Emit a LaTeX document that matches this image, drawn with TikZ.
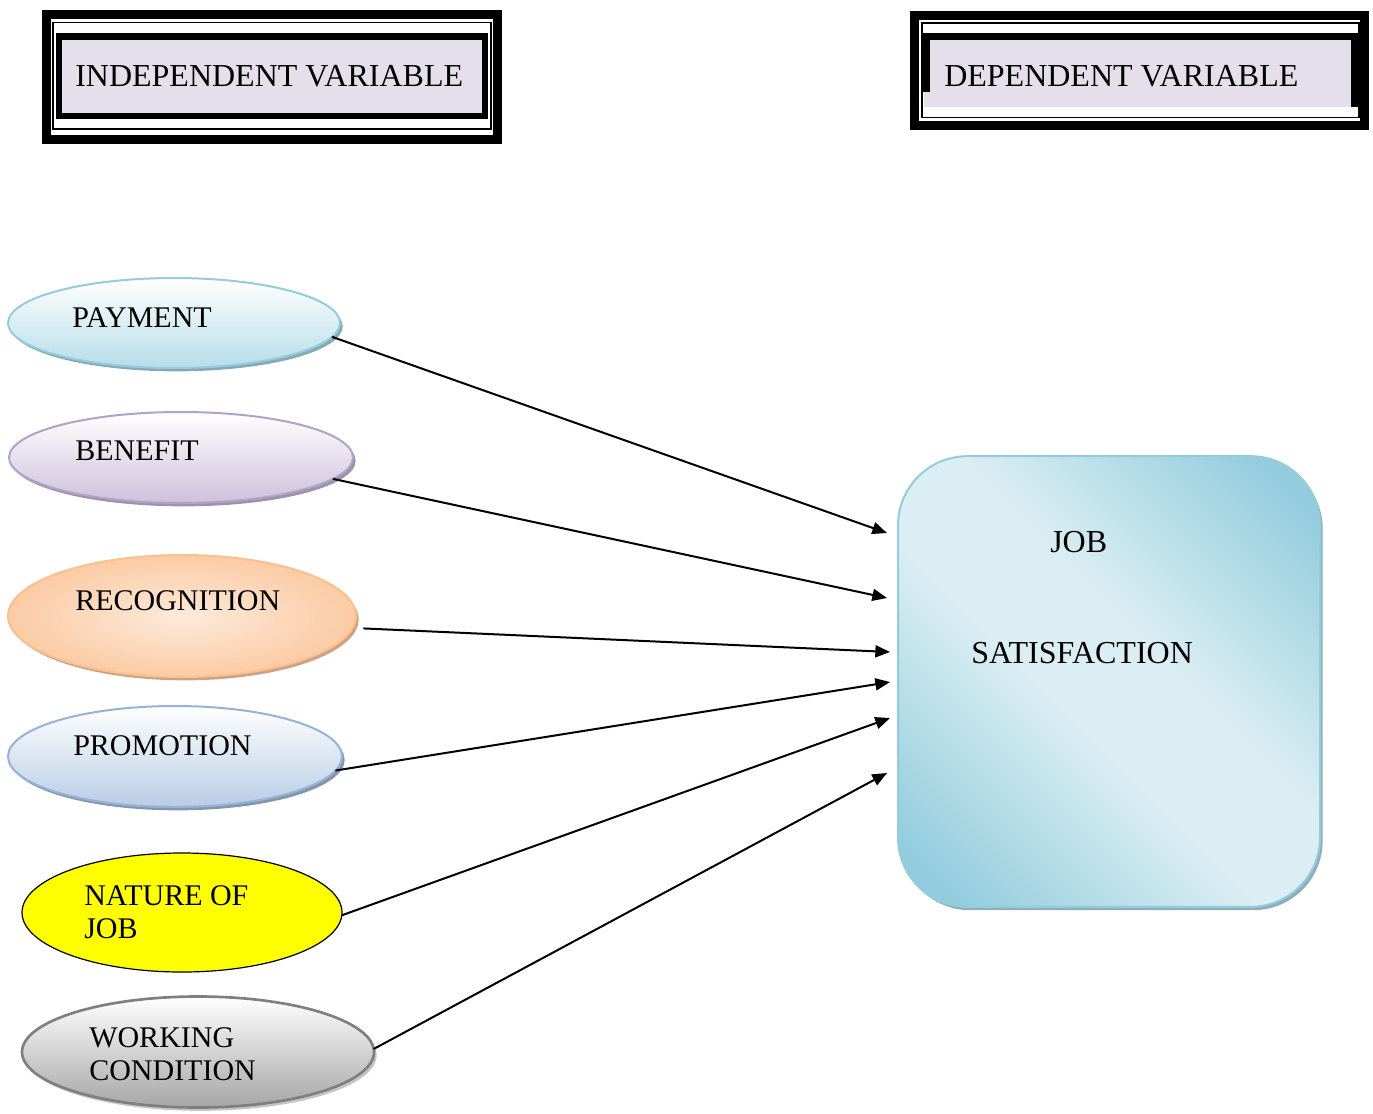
\documentclass[tikz,border=0pt]{standalone}
\usepackage{fontspec}
\setmainfont{Liberation Serif}
\usetikzlibrary{arrows.meta,shadows,shapes.geometric}

\definecolor{hdrfill}{HTML}{E5DFEC}
\definecolor{payline}{HTML}{93CDDD}
\definecolor{paybot}{HTML}{B6DDE8}
\definecolor{payshade}{HTML}{86A9B3}
\definecolor{benline}{HTML}{B2A2C7}
\definecolor{benbot}{HTML}{CCC1DA}
\definecolor{benshade}{HTML}{9D92AB}
\definecolor{recline}{HTML}{FAC090}
\definecolor{recout}{HTML}{FBCBA4}
\definecolor{recin}{HTML}{FDEADB}
\definecolor{recshade}{HTML}{CFA283}
\definecolor{proline}{HTML}{95B3D7}
\definecolor{probot}{HTML}{B8CCE4}
\definecolor{proshade}{HTML}{8496AD}
\definecolor{natfill}{HTML}{FFFF00}
\definecolor{wrkline}{HTML}{7F7F7F}
\definecolor{wrkbot}{HTML}{A6A6A6}
\definecolor{wrkshade}{HTML}{C4C4C4}
\definecolor{jsdark}{HTML}{93CDDD}
\definecolor{jslight}{HTML}{DBEEF3}
\definecolor{jsshade}{HTML}{8DAFB9}

\pgfdeclareverticalshading{jsfade}{100bp}{color(0bp)=(jsdark); color(20bp)=(jsdark);
  color(44bp)=(jslight); color(56bp)=(jslight); color(80bp)=(jsdark); color(100bp)=(jsdark)}

\begin{document}
\begin{tikzpicture}[x=0.75pt,y=0.75pt,yscale=-1,xscale=1,
  hdr/.style={font=\fontsize{24}{28}\selectfont, anchor=base west, inner sep=0pt},
  lbl/.style={font=\fontsize{22.5}{24.75}\selectfont, anchor=base west, inner sep=0pt, align=left},
  pill/.style={ellipse, inner sep=0pt, outer sep=0pt, line width=1.5pt},
  shade pill/.style={drop shadow={shadow xshift=2pt, shadow yshift=-2.5pt, fill=#1, opacity=1}},
  link/.style={line width=1.5pt, -{Triangle[length=11pt,width=9pt]}}
]
\useasboundingbox (0,0) rectangle (1373,1113);

% header frames
\draw [line width=6.75pt] (46.5,15) rectangle (497.5,139);
\draw [line width=1.2pt] (53,22.5) rectangle (491,129);
\draw [fill=hdrfill, line width=5pt] (59,36.5) rectangle (485,116);
\draw (75,86) node [hdr] (tind) {INDEPENDENT VARIABLE};

\draw [line width=6.75pt] (914.5,15.5) rectangle (1364.5,125.5);
\draw [line width=1.2pt] (922,23) rectangle (1359,117.5);
\fill [hdrfill] (924,33) rectangle (1357,107);
\draw [line width=5pt] (926.5,92) |- (1354.5,36.5) -- (1354.5,107);
\draw (944,86) node [hdr] (tdep) {DEPENDENT VARIABLE};

% independent variables
\node [pill, draw=payline, top color=white, bottom color=paybot, shade pill=payshade,
  minimum width=249pt, minimum height=67.5pt] (pay) at (174,323) {};
\node [pill, draw=benline, top color=white, bottom color=benbot, shade pill=benshade,
  minimum width=258pt, minimum height=68.25pt] (ben) at (181,457.5) {};
\node [pill, draw=recline, inner color=recin, outer color=recout, shade pill=recshade,
  minimum width=261pt, minimum height=91.5pt] (rec) at (182,616) {};
\node [pill, draw=proline, top color=white, bottom color=probot, shade pill=proshade,
  minimum width=250.5pt, minimum height=75.75pt] (pro) at (175,756.5) {};
\node [pill, draw=black, fill=natfill, line width=0.9pt,
  minimum width=240pt, minimum height=89.25pt] (nat) at (182,912.5) {};
\node [pill, draw=wrkline, top color=white, bottom color=wrkbot, shade pill=wrkshade, line width=2pt,
  minimum width=264pt, minimum height=83.25pt] (wrk) at (198,1052) {};

\draw (72,327) node [lbl] (tpay) {PAYMENT};
\draw (75,460) node [lbl] (tben) {BENEFIT};
\draw (75,610) node [lbl] (trec) {RECOGNITION};
\draw (73,755) node [lbl] (tpro) {PROMOTION};
\draw (84,938) node [lbl] (tnat) {NATURE OF\\JOB};
\draw (89,1080) node [lbl] (twrk) {WORKING\\CONDITION};

% dependent variable
\node [draw=jsdark, line width=1.5pt, rounded corners=52pt, inner sep=0pt, outer sep=0pt,
  shading=jsfade, shading angle=-45,
  drop shadow={shadow xshift=2pt, shadow yshift=-2.5pt, fill=jsshade, opacity=1},
  minimum width=316.5pt, minimum height=338pt] (js) at (1109,681.5) {};
\draw (1050,552) node [hdr] (tjob) {JOB};
\draw (971,663) node [hdr] (tsat) {SATISFACTION};

% arrow ends
\coordinate (e1) at (887,533);
\coordinate (e2) at (887,598);
\coordinate (e3) at (890,652);
\coordinate (e4) at (890,682);
\coordinate (e5) at (890,718);
\coordinate (e6) at (887,773);

\draw [link] (pay.-5) -- (e1);
\draw [link] (ben.-8) -- (e2);
\draw [link, shorten <=8pt] (rec.-4) -- (e3);
\draw [link] (pro.-5) -- (e4);
\draw [link] (nat.-1) -- (e5);
\draw [link] (wrk.1) -- (e6);
\end{tikzpicture}
\end{document}
